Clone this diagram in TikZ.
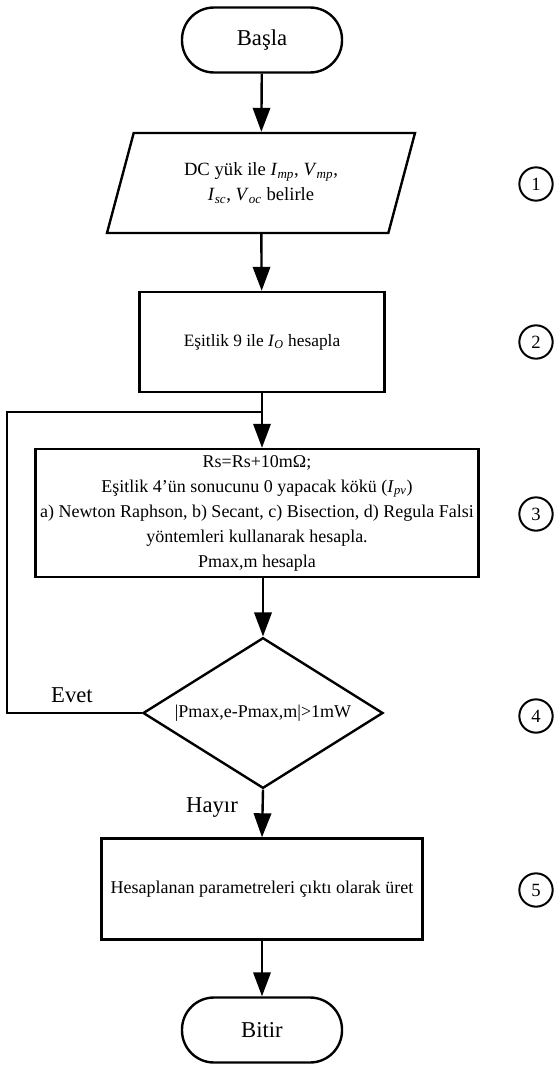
\documentclass[tikz,border=0pt]{standalone}
\usepackage{fontspec}
\setmainfont{Liberation Serif}
\usetikzlibrary{arrows.meta,positioning,shapes.geometric,calc}
\newcommand{\varsub}[2]{\textit{#1}\textsubscript{\textit{#2}}}

\begin{document}
\begin{tikzpicture}[x=0.75pt, y=-0.75pt,
  every node/.style={font=\fontsize{13}{17}\selectfont},
  term/.style={rectangle, rounded corners=24pt, draw, line width=1.8pt, minimum width=120pt, minimum height=48.75pt, font=\fontsize{17}{20}\selectfont},
  iobox/.style={trapezium, trapezium left angle=62, trapezium right angle=118, trapezium stretches body, draw, line width=1.8pt, minimum width=231pt, minimum height=75pt, align=center, font=\fontsize{14}{19}\selectfont},
  box/.style={rectangle, draw, line width=1.8pt, align=center},
  decide/.style={diamond, draw, line width=1.8pt, aspect=1.6, minimum width=180pt, minimum height=113pt, inner sep=0pt, font=\fontsize{13.5}{16}\selectfont},
  stepno/.style={circle, draw, line width=1.5pt, minimum size=25pt, inner sep=0pt, font=\fontsize{14}{16}\selectfont},
  lbl/.style={font=\fontsize{17}{20}\selectfont},
  arr/.style={-{Triangle[length=18pt, width=13pt]}, line width=1.8pt},
  line/.style={line width=1.8pt},
]
\useasboundingbox (0,0) rectangle (554,1067);

% Main column
\node[term] (start) at (262,40) {Başla};
\node[iobox] (input) at (261,183) {DC yük ile \varsub{I}{mp}, \varsub{V}{mp},\\\varsub{I}{sc}, \varsub{V}{oc} belirle};
\node[box, minimum width=183.75pt, minimum height=75pt] (calc) at (262,342) {Eşitlik 9 ile \varsub{I}{O} hesapla};
\node[box, minimum width=330.75pt, minimum height=96pt, font=\fontsize{13.5}{18.75}\selectfont] (iter) at (257,513) {Rs=Rs+10mΩ;\\Eşitlik 4'ün sonucunu 0 yapacak kökü (\varsub{I}{pv})\\a) Newton Raphson, b) Secant, c) Bisection, d) Regula Falsi\\yöntemleri kullanarak hesapla.\\Pmax,m hesapla};
\node[decide] (test) at (263,713) {|Pmax,e-Pmax,m|>1mW};
\node[box, minimum width=240.75pt, minimum height=75.75pt, font=\fontsize{13.5}{17}\selectfont] (out) at (262,889) {Hesaplanan parametreleri çıktı olarak üret};
\node[term] (stop) at (262,1030) {Bitir};

% Step numbers
\node[stepno] (n1) at (536,184) {1};
\node[stepno] (n2) at (536,342) {2};
\node[stepno] (n3) at (536,514) {3};
\node[stepno] (n4) at (536,716) {4};
\node[stepno] (n5) at (536,890) {5};

% Connectors
\coordinate (join) at (262,412);
\draw[arr] (start) -- (input);
\draw[arr] (input) -- (calc);
\draw[arr] (calc.south) -- (calc.south |- iter.north);
\draw[arr] (test.north |- iter.south) -- (test.north);
\draw[line] (test.west) -- ++(-135,0) |- (join);
\draw[arr] (test.south) -- (out.north);
\draw[arr] (out) -- (stop);

\node[lbl] (yes) at (72,695) {Evet};
\node[lbl] (no) at (212,808) {Hayır};
\end{tikzpicture}
\end{document}
